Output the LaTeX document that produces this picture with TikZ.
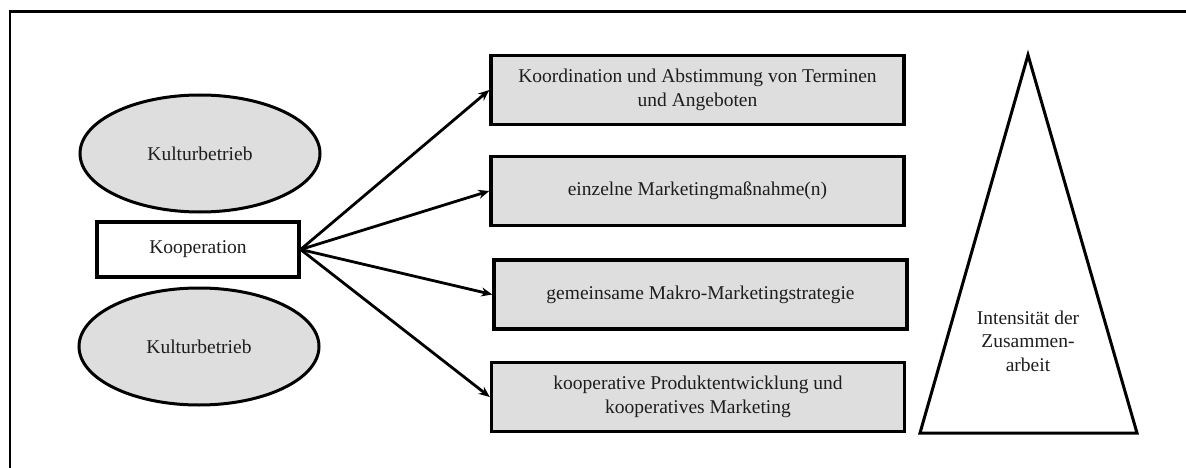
\documentclass[tikz,border=0pt]{standalone}
\usepackage{fontspec}
\setmainfont{Liberation Serif}
\usetikzlibrary{shapes.geometric,arrows.meta}

\definecolor{boxgray}{HTML}{DEDEDE}
\definecolor{inkgray}{HTML}{1E1E1E}

\tikzset{
  txt/.style={font=\fontsize{19.5}{23.5}\selectfont, text=inkgray, align=center},
  stage/.style={txt, draw=black, line width=3.4pt, fill=boxgray, rectangle,
    minimum width=413pt, minimum height=69pt, inner sep=0pt},
  partner/.style={txt, draw=black, line width=3pt, fill=boxgray, ellipse,
    minimum width=240pt, minimum height=117pt, inner sep=0pt},
  coop/.style={txt, draw=black, line width=3.2pt, fill=white, rectangle,
    minimum width=202pt, minimum height=55pt, inner sep=0pt},
  link/.style={line width=2.8pt, -{Stealth[length=11pt,width=9pt]}},
}

\begin{document}
\begin{tikzpicture}[x=1pt, y=-1pt]
  \useasboundingbox (0,0) rectangle (1186,468);

  % open frame: only left and top edges
  \draw[line width=2.8pt] (10,468) -- (10,11.5) -- (1186,11.5);

  % partners and the cooperation between them
  \node[partner] (k1) at (200,153.5) {Kulturbetrieb};
  \node[coop]    (ko) at (198,249.5) {Kooperation};
  \node[partner] (k2) at (199,346.5) {Kulturbetrieb};

  % forms of cooperation
  \node[stage] (s1) at (697.5,90)  {Koordination und Abstimmung von Terminen\\und Angeboten};
  \node[stage] (s2) at (697.5,191) {einzelne Marketingmaßnahme(n)};
  \node[stage] (s3) at (700.5,294.5) {gemeinsame Makro-Marketingstrategie};
  \node[stage] (s4) at (698,397)   {kooperative Produktentwicklung und\\kooperatives Marketing};

  \foreach \s in {s1,s2,s3,s4}
    \draw[link] (ko.east) -- (\s.west);

  % intensity triangle
  \draw[line width=3pt, line join=miter]
    (1028,55) -- (1137,433) -- (920,433) -- cycle;
  \node[txt] (int) at (1028,341) {Intensität der\\Zusammen-\\arbeit};
\end{tikzpicture}
\end{document}
